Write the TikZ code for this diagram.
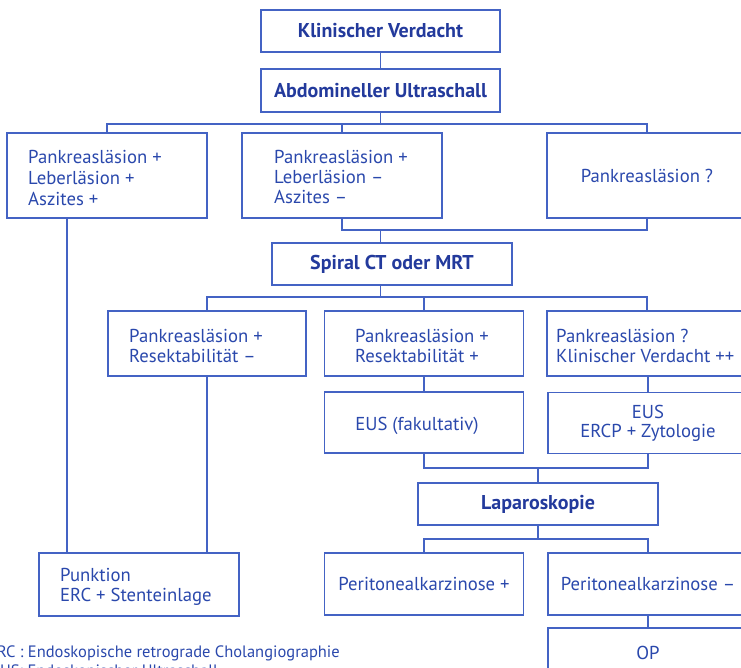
\documentclass[tikz,border=0pt]{standalone}
\usepackage{fontspec}
\setmainfont{PT Sans}
\definecolor{flowline}{HTML}{4463C4}
\definecolor{flowtext}{HTML}{2A48AC}
\definecolor{flowbold}{HTML}{233A9C}
\begin{document}
\begin{tikzpicture}[x=1pt,y=-1pt,
  box/.style={draw=flowline, line width=1.9pt, inner sep=0pt, text=flowtext,
    font=\fontsize{18.7}{20}\selectfont},
  titlebox/.style={box, text=flowbold, font=\fontsize{20}{22}\selectfont\bfseries},
  lefttext/.style={anchor=west, inner sep=0pt, align=left, text=flowtext},
  conn/.style={draw=flowline, line width=1.9pt},
  note/.style={inner sep=0pt, text=flowtext, font=\fontsize{16.5}{19}\selectfont}]
\useasboundingbox (0,0) rectangle (741,668);
\clip (0,0) rectangle (741,668);

% boxes
\node[titlebox, minimum width=239pt, minimum height=42pt] (kv) at (380.5,31) {Klinischer Verdacht};
\node[titlebox, minimum width=239pt, minimum height=43pt] (au) at (380.5,90.5) {Abdomineller Ultraschall};

\node[box, minimum width=200pt, minimum height=85pt] (a1) at (107,175.5) {};
\node[box, minimum width=200pt, minimum height=85pt] (a2) at (342,175.5) {};
\node[box, minimum width=200pt, minimum height=85pt] (a3) at (647,175.5) {Pankreasläsion ?};

\node[titlebox, minimum width=240pt, minimum height=42pt] (ct) at (392,264) {Spiral CT oder MRT};

\node[box, minimum width=198pt, minimum height=65pt] (b1) at (207,343.5) {};
\node[box, minimum width=199pt, minimum height=65pt] (b2) at (424,343.5) {};
\node[box, minimum width=200pt, minimum height=65pt] (b3) at (647,343.5) {};

\node[box, minimum width=199pt, minimum height=61pt] (c2) at (424,422.5) {};
\node[box, minimum width=200pt, minimum height=61pt, align=center] (c3) at (648,423)
  {EUS\\[-1pt]ERCP + Zytologie};

\node[titlebox, minimum width=240pt, minimum height=42pt] (lp) at (538,504) {Laparoskopie};

\node[box, minimum width=200pt, minimum height=63pt] (e1) at (139,584.5) {};
\node[box, minimum width=199pt, minimum height=62pt] (d2) at (424,584) {Peritonealkarzinose +};
\node[box, minimum width=200pt, minimum height=62pt] (d3) at (648,584) {Peritonealkarzinose –};
\node[box, minimum width=200pt, minimum height=50pt] (op) at (648,653) {OP};

% left-aligned box texts
\node[lefttext, font=\fontsize{18.7}{21}\selectfont] (a1t) at (28,178)
  {Pankreasläsion +\\Leberläsion +\\Aszites +};
\node[lefttext, font=\fontsize{18.7}{20}\selectfont] (a2t) at (274,177)
  {Pankreasläsion +\\Leberläsion –\\Aszites –};
\node[lefttext, font=\fontsize{18.7}{20}\selectfont] (b1t) at (129,346)
  {Pankreasläsion +\\Resektabilität –};
\node[lefttext, font=\fontsize{18.7}{20}\selectfont] (b2t) at (355,346)
  {Pankreasläsion +\\Resektabilität +};
\node[lefttext, font=\fontsize{18.7}{20}\selectfont] (b3t) at (556,346)
  {Pankreasläsion ?\\Klinischer Verdacht ++};
\node[inner sep=0pt, text=flowtext, font=\fontsize{18.7}{20}\selectfont] (c2t) at (417,426)
  {EUS (fakultativ)};
\node[lefttext, font=\fontsize{18.7}{20}\selectfont] (e1t) at (60,587)
  {Punktion\\ERC + Stenteinlage};

% connectors
\coordinate (bus1) at (0,124);
\coordinate (bus2) at (0,230);
\coordinate (bus3) at (0,297);
\coordinate (bus4) at (0,468);
\coordinate (bus5) at (0,539);

\draw[conn] (kv) -- (au);
\draw[conn] (au.south) -- (au.south |- bus1);
\draw[conn] (a1.north) -- (a1.north |- bus1) -- (a3.north |- bus1) -- (a3.north);
\draw[conn] (a2.north) -- (a2.north |- bus1);

\draw[conn] (a2.south) -- (a2.south |- bus2) -- (a3.south |- bus2) -- (a3.south);
\draw[conn] (au.south |- bus2) -- (au.south |- ct.north);

\draw[conn] (au.south |- ct.south) -- (au.south |- bus3);
\draw[conn] (b1.north) -- (b1.north |- bus3) -- (b3.north |- bus3) -- (b3.north);
\draw[conn] (b2.north) -- (b2.north |- bus3);

\draw[conn] (b2) -- (c2);
\draw[conn] (b3.south) -- (b3.south -| c3.north) -- (c3.north);

\draw[conn] (c2.south) -- (c2.south |- bus4) -- (c3.south |- bus4) -- (c3.south);
\draw[conn] (lp.north) -- (lp.north |- bus4);

\draw[conn] (lp.south) -- (lp.south |- bus5);
\draw[conn] (d2.north) -- (d2.north |- bus5) -- (d3.north |- bus5) -- (d3.north);
\draw[conn] (d3) -- (op);

\draw[conn] ([xshift=-40pt]a1.south) -- ([xshift=-40pt]a1.south |- e1.north);
\draw[conn] (b1.south) -- (b1.south |- e1.north);

% abbreviations
\node[note, anchor=east] (n1) at (340,653) {ERC : Endoskopische retrograde Cholangiographie};
\node[note, anchor=west] (n2) at (-9,672) {EUS: Endoskopischer Ultraschall};
\end{tikzpicture}
\end{document}
